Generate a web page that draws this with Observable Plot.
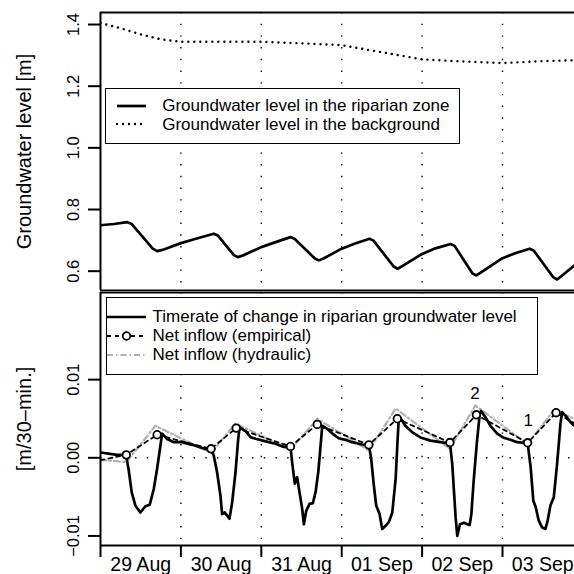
<!DOCTYPE html>
<html><head><meta charset="utf-8">
<script src="https://cdn.jsdelivr.net/npm/d3@7"></script>
<script src="https://cdn.jsdelivr.net/npm/@observablehq/plot@0.6"></script>
<style>
body{margin:0;background:#fff;}
#wrap{position:relative;width:574px;height:574px;overflow:hidden;font-family:"Liberation Sans",Arial,sans-serif;background:#fff;}
#wrap svg{position:absolute;left:0;}
.legend{position:absolute;background:#fff;border:1.8px solid #000;box-sizing:border-box;}
.row{position:absolute;white-space:nowrap;font-size:17px;line-height:20px;color:#000;}
.sample{position:absolute;overflow:visible;}
</style></head><body><div id="wrap"></div>
<script>
// ---- data (hours since 29 Aug 00:00) ----
const dayStarts = [0, 24, 48, 72, 96, 120];
const topTicks = [0.6, 0.8, 1.0, 1.2, 1.4];
const bottomTicks = [-0.01, 0, 0.01];
const bottomTickLabels = ["\u22120.01", "0.00", "0.01"];
const topTitle = "Groundwater level [m]";
const bottomTitle = "[m/30\u2013min.]";

const levelHours = [0,4,8.0,9.2,15.6,16.9,18.5,24,29,33.8,35.0,39.8,41.0,42.5,48,52.5,56.7,57.9,64.0,65.2,66.7,72,76,80.3,81.5,87.5,88.7,90.2,96,100,104.5,105.7,111.0,112.2,113.7,120,124,128.1,129.3,135.1,136.3,137.8,141.5];
const riparianLevel = [0.749,0.753,0.759,0.754,0.673,0.665,0.669,0.691,0.707,0.7215,0.716,0.652,0.6455,0.651,0.678,0.695,0.7105,0.705,0.641,0.635,0.642,0.673,0.690,0.705,0.699,0.615,0.608,0.617,0.656,0.674,0.688,0.682,0.593,0.586,0.597,0.642,0.659,0.673,0.667,0.581,0.573,0.586,0.619];

const bgHours = [0,6,12,18,24,36,48,60,72,84,96,108,120,132,141.5];
const backgroundLevel = [1.405,1.388,1.368,1.352,1.344,1.344,1.344,1.339,1.333,1.31,1.287,1.28,1.275,1.281,1.284];

// rate values in 10^-3 m / 30 min
const rateHours = [0,4.5,7.6,8.4,9.3,10.4,11.9,13.4,14.7,15.9,16.9,17.9,18.4,19.9,21.9,24.4,27.4,30.4,32.3,33.0,33.8,34.8,35.8,36.3,37.1,37.8,38.5,39.3,40.3,41.1,41.5,43.3,44.8,46.3,49.3,52.2,54.7,56.7,57.2,58.0,58.7,59.4,60.2,60.7,61.4,62.4,63.4,64.2,65.0,65.7,66.2,67.7,69.2,71.1,73.1,75.1,78.1,80.1,80.8,81.6,82.3,83.3,84.1,85.1,86.1,87.1,88.1,88.6,89.0,89.4,91.0,93.0,95.5,98.5,101.5,103.5,104.3,105.0,105.5,106.0,106.5,107.3,108.5,109.5,110.2,110.7,111.4,112.4,113.2,113.6,114.9,116.4,118.4,120.4,122.4,124.4,126.4,127.5,128.4,129.2,129.9,130.8,131.8,132.8,133.5,134.3,135.3,136.3,137.3,137.8,138.8,140.3,141.5];
const rateOfChange = [0.68,0.4,0.35,-1.5,-4.4,-6.1,-7.0,-6.2,-6.0,-4.0,-1.4,1.6,3.1,2.4,2.0,2.0,1.66,1.25,1.0,1.1,0.3,-1.85,-4.8,-7.2,-7.0,-7.4,-7.8,-5.7,-1.85,2.4,3.9,3.4,2.64,2.44,2.1,1.8,1.4,1.4,-0.56,-3.3,-2.5,-4.4,-6.5,-8.5,-6.8,-5.9,-5.8,-4.4,-1.85,1.6,4.1,3.7,3.1,2.5,2.3,2.0,1.7,1.65,-0.1,-3.55,-6.1,-7.2,-9.1,-8.7,-8.2,-7.0,-2.7,1.6,4.8,5.2,4.1,3.3,2.6,2.2,2.0,1.87,1.9,-0.77,-4.2,-7.6,-10.0,-8.5,-8.3,-8.5,-8.6,-7.2,-2.9,2.2,5.6,6.0,5.2,4.1,3.1,2.56,2.3,2.0,1.92,1.92,-1.2,-5.5,-6.3,-8.0,-8.9,-9.1,-8.0,-6.1,-5.05,-0.77,4.36,5.85,5.4,4.56,4.1];

const empHours = [0,7.7,16.9,33.0,40.5,56.7,64.7,80.1,88.6,104.3,112.2,127.5,136.0,141.5];
const empiricalInflow = [-0.3,0.38,2.95,1.15,3.8,1.45,4.27,1.66,5.0,1.95,5.5,1.92,5.77,4.4];

const hydHours = [0,7.7,16.4,33.0,40.3,56.7,64.7,80.1,88.1,104.3,111.9,127.5,135.3,141.5];
const hydraulicInflow = [-0.25,-0.55,4.1,0.6,4.4,1.0,5.0,0.95,6.3,1.15,6.7,1.75,6.1,5.0];

const annotText = ["2", "1"];
const annotHours = [111.8, 127.7];
const annotValues = [8.2, 4.8];

const topLegendLabels = ["Groundwater level in the riparian zone", "Groundwater level in the background"];
const bottomLegendLabels = ["Timerate of change in riparian groundwater level", "Net inflow (empirical)", "Net inflow (hydraulic)"];

// ---- build ----
const T0 = Date.UTC(2012, 7, 29);
const toDate = h => new Date(T0 + h * 3600e3);
const xDomain = [toDate(0), toDate(141.49)];
const midnights = dayStarts.map(toDate);
const noons = dayStarts.map(h => toDate(h + 12));
const font = '"Liberation Sans", Arial, sans-serif';

const level = levelHours.map((h, i) => ({t: toDate(h), v: riparianLevel[i]}));
const bg = bgHours.map((h, i) => ({t: toDate(h), v: backgroundLevel[i]}));
const rate = rateHours.map((h, i) => ({t: toDate(h), v: rateOfChange[i] / 1000}));
const emp = empHours.map((h, i) => ({t: toDate(h), v: empiricalInflow[i] / 1000}));
const hyd = hydHours.map((h, i) => ({t: toDate(h), v: hydraulicInflow[i] / 1000}));
const annot = annotText.map((s, i) => ({t: toDate(annotHours[i]), v: annotValues[i] / 1000, label: s}));

const gridStyle = {stroke: "black", strokeWidth: 1.4, strokeDasharray: "1.4,10.3"};
const topY = [0.5373, 1.439];
const botY = [-0.01122, 0.02115];

const topPlot = Plot.plot({
  width: 574, height: 291, marginLeft: 100, marginRight: 0, marginTop: 12, marginBottom: 1,
  x: {type: "utc", domain: xDomain, axis: null},
  y: {domain: topY, axis: null},
  style: {fontFamily: font, background: "transparent", overflow: "hidden"},
  marks: [
    Plot.ruleX(midnights.slice(1), gridStyle),
    Plot.line(bg, {x: "t", y: "v", stroke: "black", strokeWidth: 2.4, strokeDasharray: "0.01,6", strokeLinecap: "round", clip: true}),
    Plot.line(level, {x: "t", y: "v", stroke: "black", strokeWidth: 2.7, strokeLinejoin: "round", clip: true}),
    Plot.axisY({ticks: topTicks, tickSize: 12, tickFormat: () => "", strokeWidth: 2, label: null}),
    Plot.text(topTicks, {y: d => d, text: d => d.toFixed(1), frameAnchor: "left", dx: -22, rotate: -90, textAnchor: "middle", lineAnchor: "bottom", fontSize: 16.5}),
    Plot.text([topTitle], {text: d => d, frameAnchor: "left", dx: -70, rotate: -90, textAnchor: "middle", lineAnchor: "bottom", fontSize: 20}),
    Plot.ruleY(topY, {strokeWidth: 2}),
    Plot.ruleX([xDomain[0]], {strokeWidth: 2})
  ]
});

const botPlot = Plot.plot({
  width: 574, height: 283, marginLeft: 100, marginRight: 0, marginTop: 1, marginBottom: 29,
  x: {type: "utc", domain: xDomain, axis: null},
  y: {domain: botY, axis: null},
  style: {fontFamily: font, background: "transparent", overflow: "hidden"},
  marks: [
    Plot.ruleX(midnights.slice(1), gridStyle),
    Plot.ruleY([0], gridStyle),
    Plot.line(hyd, {x: "t", y: "v", stroke: "#b0b0b0", strokeWidth: 2.2, strokeDasharray: "6,3,1.5,3", clip: true}),
    Plot.line(emp, {x: "t", y: "v", stroke: "black", strokeWidth: 1.8, strokeDasharray: "4,4", clip: true}),
    Plot.line(rate, {x: "t", y: "v", stroke: "black", strokeWidth: 2.7, strokeLinejoin: "round", clip: true}),
    Plot.dot(emp.slice(1, -1), {x: "t", y: "v", r: 3.8, fill: "white", stroke: "black", strokeWidth: 1.8}),
    Plot.text(annot, {x: "t", y: "v", text: "label", fontSize: 17}),
    Plot.axisY({ticks: bottomTicks, tickSize: 12, tickFormat: () => "", strokeWidth: 2, label: null}),
    Plot.text(bottomTicks, {y: d => d, text: (d, i) => bottomTickLabels[i], frameAnchor: "left", dx: -22, rotate: -90, textAnchor: "middle", lineAnchor: "bottom", fontSize: 16.5}),
    Plot.text([bottomTitle], {text: d => d, frameAnchor: "left", dx: -70, rotate: -90, textAnchor: "middle", lineAnchor: "bottom", fontSize: 20}),
    Plot.axisX({ticks: midnights, tickSize: 12, tickFormat: () => "", strokeWidth: 2, label: null}),
    Plot.axisX({ticks: noons, tickSize: 0, tickPadding: 12, tickFormat: d3.utcFormat("%d %b"), fontSize: 19.5, label: null}),
    Plot.ruleY(botY, {strokeWidth: 2}),
    Plot.ruleX([xDomain[0]], {strokeWidth: 2})
  ]
});

const wrap = document.getElementById("wrap");
topPlot.style.top = "0px";
botPlot.style.top = "291px";
wrap.appendChild(topPlot);
wrap.appendChild(botPlot);

// ---- legends (HTML overlays) ----
const B = 1.8;
function sampleSvg(kind, w) {
  const ns = "http://www.w3.org/2000/svg";
  const s = document.createElementNS(ns, "svg");
  s.setAttribute("width", w + 10); s.setAttribute("height", 12);
  s.setAttribute("class", "sample");
  const l = document.createElementNS(ns, "line");
  l.setAttribute("x1", 5); l.setAttribute("x2", w + 5); l.setAttribute("y1", 6); l.setAttribute("y2", 6);
  l.setAttribute("stroke", kind === "hyd" ? "#b0b0b0" : "black");
  if (kind === "solid") l.setAttribute("stroke-width", 2.7);
  if (kind === "dot") { l.setAttribute("stroke-width", 2.4); l.setAttribute("stroke-dasharray", "0.01,6"); l.setAttribute("stroke-linecap", "round"); }
  if (kind === "emp") { l.setAttribute("stroke-width", 1.8); l.setAttribute("stroke-dasharray", "4,4"); }
  if (kind === "hyd") { l.setAttribute("stroke-width", 2.2); l.setAttribute("stroke-dasharray", "6,3,1.5,3"); }
  s.appendChild(l);
  if (kind === "emp") {
    const c = document.createElementNS(ns, "circle");
    c.setAttribute("cx", 5 + w / 2); c.setAttribute("cy", 6); c.setAttribute("r", 3.8);
    c.setAttribute("fill", "white"); c.setAttribute("stroke", "black"); c.setAttribute("stroke-width", 1.8);
    s.appendChild(c);
  }
  return s;
}
function makeLegend(box, rows) {
  const d = document.createElement("div");
  d.className = "legend";
  Object.assign(d.style, {left: box.l + "px", top: box.t + "px", width: (box.r - box.l) + "px", height: (box.b - box.t) + "px"});
  rows.forEach(r => {
    const sv = sampleSvg(r.kind, r.x2 - r.x1);
    sv.style.left = (r.x1 - 5 - box.l - B) + "px";
    sv.style.top = (r.ys - 6 - box.t - B) + "px";
    d.appendChild(sv);
    const t = document.createElement("div");
    t.className = "row";
    t.textContent = r.text;
    t.style.left = (r.tx - box.l - B) + "px";
    t.style.top = (r.yt - 10 - box.t - B) + "px";
    d.appendChild(t);
  });
  wrap.appendChild(d);
}
makeLegend({l: 105, t: 88, r: 459.5, b: 144}, [
  {kind: "solid", text: topLegendLabels[0], x1: 118, x2: 147, ys: 106.5, tx: 163, yt: 107},
  {kind: "dot", text: topLegendLabels[1], x1: 118, x2: 147, ys: 124.5, tx: 163, yt: 125.5}
]);
makeLegend({l: 105.5, t: 297, r: 537.5, b: 374.5}, [
  {kind: "solid", text: bottomLegendLabels[0], x1: 108, x2: 147, ys: 317.7, tx: 153.3, yt: 317.7},
  {kind: "emp", text: bottomLegendLabels[1], x1: 108, x2: 147, ys: 336.7, tx: 153.3, yt: 336.7},
  {kind: "hyd", text: bottomLegendLabels[2], x1: 108, x2: 147, ys: 356, tx: 153.3, yt: 356}
]);
</script></body></html>
